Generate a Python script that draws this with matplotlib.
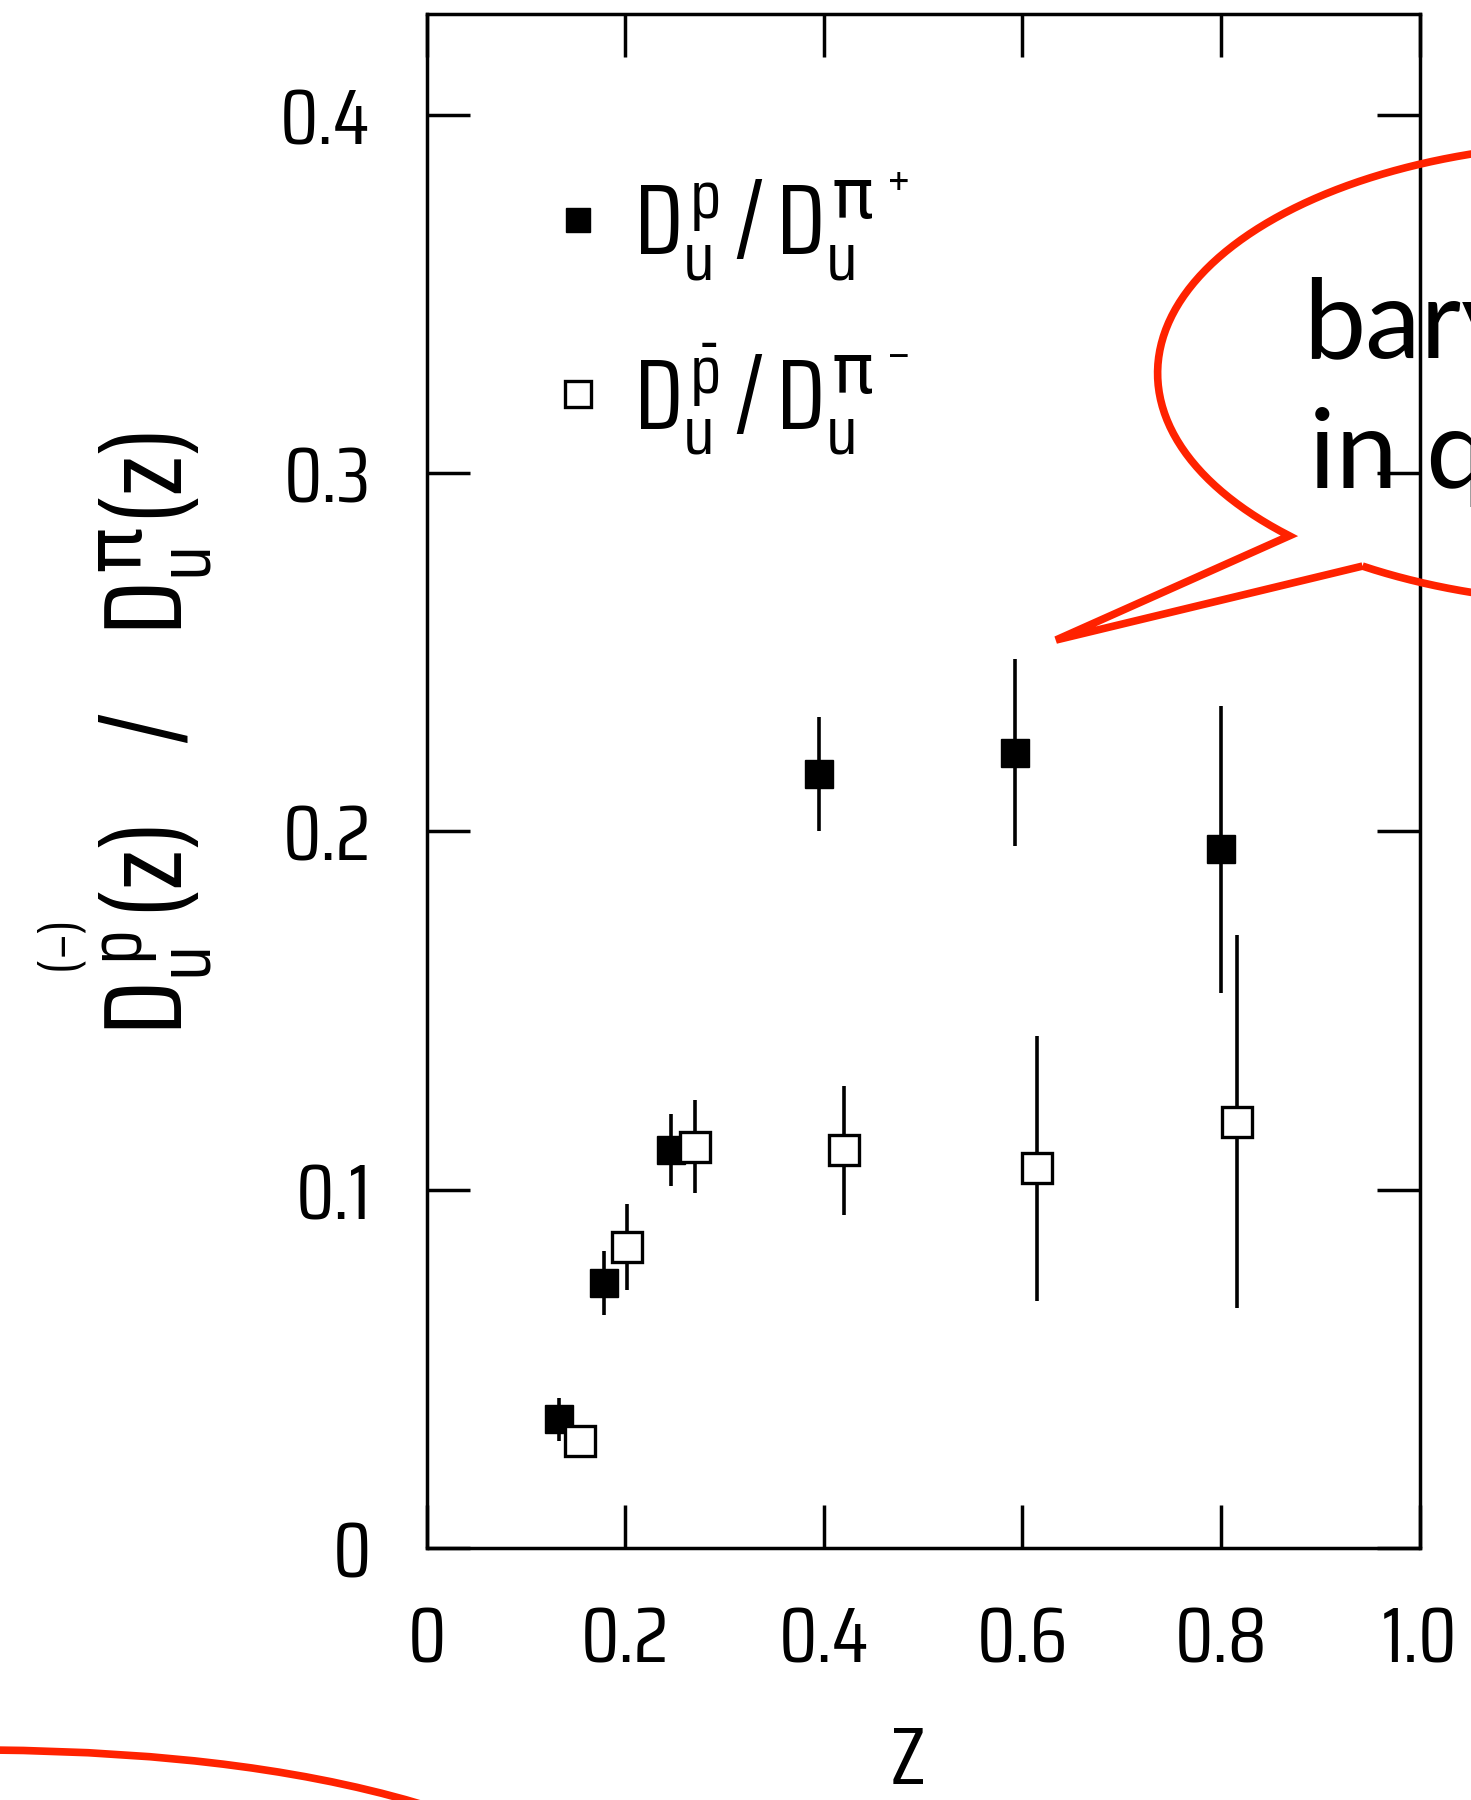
#!/usr/bin/env python3
import numpy as np
import matplotlib
matplotlib.use('Agg')
import matplotlib.pyplot as plt
from matplotlib.path import Path
from matplotlib.patches import PathPatch

# data
z_p = [0.133, 0.179, 0.246, 0.395, 0.593, 0.800]
r_p = [0.036, 0.074, 0.111, 0.216, 0.222, 0.195]
e_p = [0.006, 0.009, 0.010, 0.016, 0.026, 0.040]

z_pbar = [0.154, 0.202, 0.270, 0.420, 0.615, 0.816]
r_pbar = [0.030, 0.084, 0.112, 0.111, 0.106, 0.119]
e_pbar = [0.000, 0.012, 0.013, 0.018, 0.037, 0.052]

xticks = [0, 0.2, 0.4, 0.6, 0.8, 1.0]
xticklabels = ['0', '0.2', '0.4', '0.6', '0.8', '1.0']
yticks = [0, 0.1, 0.2, 0.3, 0.4]
yticklabels = ['0', '0.1', '0.2', '0.3', '0.4']

FONT = 'Saira Condensed'
plt.rcParams['font.family'] = [FONT, 'DejaVu Sans']
plt.rcParams['mathtext.fontset'] = 'custom'
plt.rcParams['mathtext.rm'] = FONT
plt.rcParams['mathtext.it'] = FONT
plt.rcParams['mathtext.bf'] = FONT
plt.rcParams['mathtext.sf'] = 'DejaVu Sans'

fig = plt.figure(figsize=(14.71, 18), dpi=100)
ax = fig.add_axes([0.290, 0.14, 0.675, 0.852])

eb1 = ax.errorbar(z_p, r_p, yerr=e_p, fmt='s', color='black', ms=20,
                  elinewidth=2.6, capsize=0, zorder=3)
eb2 = ax.errorbar(z_pbar, r_pbar, yerr=e_pbar, fmt='s', color='black', ms=22,
                  mfc='white', mec='black', mew=2.4, elinewidth=2.6,
                  capsize=0, zorder=4)

ax.set_xlim(0, 1.0)
ax.set_ylim(0, 0.428)
ax.set_xticks(xticks)
ax.set_xticklabels(xticklabels)
ax.set_yticks(yticks)
ax.set_yticklabels(yticklabels)
ax.tick_params(direction='in', length=31, width=2.5, top=True, right=True,
               pad=40, labelsize=57)
for s in ax.spines.values():
    s.set_linewidth(2.5)

ax.legend([eb1[0], eb2[0]],
          [r'$D_u^p\,/\,D_u^{\mathsf{\pi}^{\,+}}$',
           r'$D_u^{\bar{p}}\,/\,D_u^{\mathsf{\pi}^{\,-}}$'],
          loc='upper left', bbox_to_anchor=(0.082, 0.931), frameon=False,
          fontsize=72, handlelength=0.4, handletextpad=0.35,
          labelspacing=0.57, markerscale=0.85, borderpad=0)

fig.text(0.085, 0.592,
         r'$D_u^{\overset{(-)}{p}}(z)\quad/\quad D_u^{\mathsf{\pi}}(z)$',
         rotation=90, ha='center', va='center', fontsize=80)
fig.text(0.617, 0.021, 'Z', ha='center', va='center', fontsize=58)

# red speech bubble overlay (figure pixel coords, y up)
W, H = 1471.0, 1800.0
cx, cy, a, b = 1607.6, 1426.8, 450.0, 230.0
t = np.radians(np.linspace(237, 225 + 360, 200))
arc = np.column_stack([cx + a * np.cos(t), cy + b * np.sin(t)])
tip = np.array([[1056.0, 1160.0]])
pts = np.vstack([arc, tip, arc[:1]]) / [W, H]
bubble = PathPatch(Path(pts), fill=False, edgecolor='#ff2200', lw=5.5,
                   transform=fig.transFigure, joinstyle='miter')
fig.add_artist(bubble)

fig.text(0.886, 0.801, 'baryon', fontsize=80, family=['Lato', 'DejaVu Sans'],
         ha='left', va='baseline')
fig.text(0.890, 0.729, 'in quark', fontsize=80, family=['Lato', 'DejaVu Sans'],
         ha='left', va='baseline')

# red curve bottom-left (another bubble cut by the page edge)
verts = np.array([[-10, H - 1750], [260, H - 1752], [440, -10]]) / [W, H]
curve = PathPatch(Path(verts, [Path.MOVETO, Path.CURVE3, Path.CURVE3]),
                  fill=False, edgecolor='#ff2200', lw=5.5,
                  transform=fig.transFigure)
fig.add_artist(curve)

fig.savefig('out.png', dpi=100)
